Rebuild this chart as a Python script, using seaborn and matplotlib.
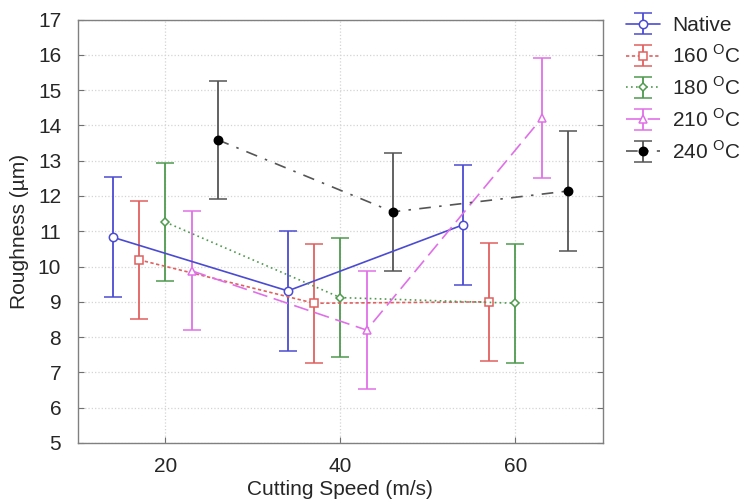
import numpy as np
import pandas as pd
import matplotlib
matplotlib.use('Agg')
import matplotlib.pyplot as plt
import seaborn as sns

# ── Data ──────────────────────────────────────────────────────────────
series = ['Native', '160 $^{\\mathregular{O}}$C', '180 $^{\\mathregular{O}}$C',
          '210 $^{\\mathregular{O}}$C', '240 $^{\\mathregular{O}}$C']
speed_native = [14, 34, 54]
speed_160 = [17, 37, 57]
speed_180 = [20, 40, 60]
speed_210 = [23, 43, 63]
speed_240 = [26, 46, 66]

rough_native = [10.83, 9.31, 11.18]
rough_160 = [10.19, 8.96, 9.00]
rough_180 = [11.26, 9.12, 8.96]
rough_210 = [9.88, 8.20, 14.20]
rough_240 = [13.59, 11.55, 12.14]

err_native = [1.70, 1.70, 1.69]
err_160 = [1.68, 1.68, 1.68]
err_180 = [1.68, 1.68, 1.68]
err_210 = [1.68, 1.68, 1.70]
err_240 = [1.68, 1.68, 1.70]

speeds = [speed_native, speed_160, speed_180, speed_210, speed_240]
roughs = [rough_native, rough_160, rough_180, rough_210, rough_240]
errs = [err_native, err_160, err_180, err_210, err_240]

# ── Styles ────────────────────────────────────────────────────────────
colors = ['#4b4bd2', '#e06060', '#4f9a4f', '#e070e8', '#555555']
line_styles = ['-', (0, (2, 1.5)), (0, (1, 2)), (0, (9, 4)), (0, (7, 5, 1.5, 5))]
markers = ['o', 's', 'D', '^', 'o']
marker_sizes = [6, 5.5, 4.5, 6, 6]
face_colors = ['white', 'white', 'white', 'white', 'black']
edge_colors = ['#4b4bd2', '#e06060', '#4f9a4f', '#e070e8', 'black']

sns.set_style('white')
plt.rcParams['font.family'] = ['Liberation Sans', 'DejaVu Sans']
plt.rcParams['mathtext.fontset'] = 'custom'
plt.rcParams['mathtext.rm'] = 'Liberation Sans'

fig = plt.figure(figsize=(7.48, 5.0), dpi=100)
ax = fig.add_axes([0.104, 0.114, 0.702, 0.847])

for name, x, y, e, c, ls, m, ms, fc, ec in zip(
        series, speeds, roughs, errs, colors, line_styles,
        markers, marker_sizes, face_colors, edge_colors):
    df = pd.DataFrame({'speed': x, 'rough': y})
    ax.errorbar(df['speed'], df['rough'], yerr=e, color=c, ecolor=c,
                linestyle=ls, linewidth=1.2, elinewidth=1.3, capsize=6.5,
                capthick=1.3, marker=m, markersize=ms, markerfacecolor=fc,
                markeredgecolor=ec, markeredgewidth=1.1, label=name)

ax.set_xlim(10, 70)
ax.set_ylim(5, 17)
ax.set_xticks([20, 40, 60])
ax.set_yticks(np.arange(5, 18, 1))
ax.grid(True, color='#d4d4d4', linestyle=':', linewidth=0.9)
ax.tick_params(direction='in', length=4, color='#707070', labelsize=15,
               right=True, left=True, bottom=True, top=False)
ax.tick_params(axis='x', pad=10)
ax.tick_params(axis='y', pad=12)
for sp in ax.spines.values():
    sp.set_color('#808080')
    sp.set_linewidth(1.0)

ax.set_xlabel('Cutting Speed (m/s)', fontsize=15, labelpad=3)
ax.set_ylabel('Roughness (µm)', fontsize=15, labelpad=6)

fig.legend(loc='upper left', bbox_to_anchor=(0.826, 0.985), frameon=False,
           fontsize=15, handlelength=1.6, handletextpad=0.6,
           labelspacing=0.45, borderaxespad=0)

fig.savefig('out.png', dpi=100)
